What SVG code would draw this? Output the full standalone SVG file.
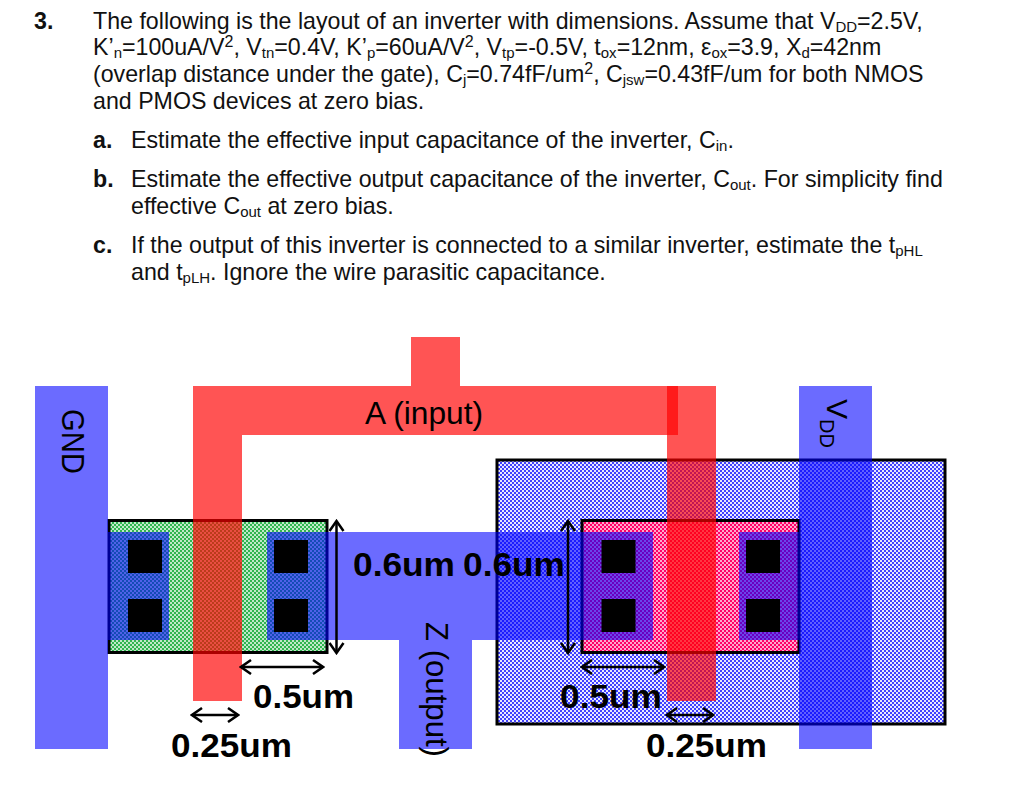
<svg xmlns="http://www.w3.org/2000/svg" width="1024" height="793" viewBox="0 0 1024 793">
<style>
text{font-family:"Liberation Sans",Arial,sans-serif;fill:#111}
.b{font-size:23.2px}
.n{font-size:23.2px;font-weight:bold}
.s{font-size:15px}
.u{font-size:16px}
.m{font-size:33px;font-weight:bold;fill:#000}
.l{font-size:31px;fill:#000}
.metal{fill:#0000ff;fill-opacity:.58}
.poly{fill:#ff0000;fill-opacity:.67}
.ct{fill:#000}
.box{stroke:#000;stroke-width:3}
.arr{fill:none;stroke:#000;stroke-width:2.5;marker-start:url(#h);marker-end:url(#h)}
</style>
<defs>
<pattern id="well" width="4" height="4" patternUnits="userSpaceOnUse"><rect width="4" height="4" fill="#4040ff"/><rect width="2" height="2" fill="#e8e8ff"/><rect x="2" y="2" width="2" height="2" fill="#e8e8ff"/></pattern>
<pattern id="ndiff" width="4" height="4" patternUnits="userSpaceOnUse"><rect width="4" height="4" fill="#2fb54f"/><rect width="2" height="2" fill="#bfe8c8"/><rect x="2" y="2" width="2" height="2" fill="#bfe8c8"/></pattern>
<pattern id="pdiff" width="4" height="4" patternUnits="userSpaceOnUse"><rect width="4" height="4" fill="#ff0066"/><rect width="2" height="2" fill="#ffa8cc"/><rect x="2" y="2" width="2" height="2" fill="#ffa8cc"/></pattern>
<marker id="h" viewBox="-11 -8 13 16" markerUnits="userSpaceOnUse" markerWidth="13" markerHeight="16" refX="0" refY="0" orient="auto-start-reverse"><path d="M-10,-7 L0,0 L-10,7" fill="none" stroke="#000" stroke-width="2.5"/></marker>
</defs>

<g id="question">
<text class="n" x="34" y="29">3.</text>
<text class="b" x="93" y="29">The following is the layout of an inverter with dimensions. Assume that V<tspan class="s" dy="3">DD</tspan><tspan dy="-3">=2.5V,</tspan></text>
<text class="b" x="93" y="55">K’<tspan class="s" dy="3">n</tspan><tspan dy="-3">=100uA/V</tspan><tspan class="u" dy="-8">2</tspan><tspan dy="8">, V</tspan><tspan class="s" dy="3">tn</tspan><tspan dy="-3">=0.4V, K’</tspan><tspan class="s" dy="3">p</tspan><tspan dy="-3">=60uA/V</tspan><tspan class="u" dy="-8">2</tspan><tspan dy="8">, V</tspan><tspan class="s" dy="3">tp</tspan><tspan dy="-3">=-0.5V, t</tspan><tspan class="s" dy="3">ox</tspan><tspan dy="-3">=12nm, ε</tspan><tspan class="s" dy="3">ox</tspan><tspan dy="-3">=3.9, X</tspan><tspan class="s" dy="3">d</tspan><tspan dy="-3">=42nm</tspan></text>
<text class="b" x="93" y="82">(overlap distance under the gate), C<tspan class="s" dy="3">j</tspan><tspan dy="-3">=0.74fF/um</tspan><tspan class="u" dy="-8">2</tspan><tspan dy="8">, C</tspan><tspan class="s" dy="3">jsw</tspan><tspan dy="-3">=0.43fF/um for both NMOS</tspan></text>
<text class="b" x="93" y="109">and PMOS devices at zero bias.</text>
<text class="n" x="93" y="148">a.</text>
<text class="b" x="131" y="148">Estimate the effective input capacitance of the inverter, C<tspan class="s" dy="3">in</tspan><tspan dy="-3">.</tspan></text>
<text class="n" x="93" y="187">b.</text>
<text class="b" x="131" y="187">Estimate the effective output capacitance of the inverter, C<tspan class="s" dy="3">out</tspan><tspan dy="-3">. For simplicity find</tspan></text>
<text class="b" x="131" y="214">effective C<tspan class="s" dy="3">out</tspan><tspan dy="-3"> at zero bias.</tspan></text>
<text class="n" x="93" y="253">c.</text>
<text class="b" x="131" y="253">If the output of this inverter is connected to a similar inverter, estimate the t<tspan class="s" dy="3">pHL</tspan></text>
<text class="b" x="131" y="280">and t<tspan class="s" dy="3">pLH</tspan><tspan dy="-3">. Ignore the wire parasitic capacitance.</tspan></text>
</g>

<g id="nwell"><rect class="box" x="497" y="460" width="448" height="264" fill="url(#well)"/></g>
<g id="ndiffusion"><rect class="box" x="109" y="520.5" width="218" height="132" fill="url(#ndiff)"/></g>
<g id="pdiffusion"><rect class="box" x="582" y="520.5" width="217" height="132" fill="url(#pdiff)"/></g>

<g id="poly-input">
<path class="poly" d="M193,386H411V337H460V386H678V435H242V701H193Z"/>
<rect class="poly" x="667" y="386" width="49" height="315"/>
<text class="l" x="365" y="424" textLength="118" lengthAdjust="spacingAndGlyphs">A (input)</text>
</g>

<g id="metal-gnd">
<path class="metal" d="M35,386H108V532H169V640H108V749H35Z"/>
<text class="l" transform="translate(62,409) rotate(90)" textLength="65" lengthAdjust="spacingAndGlyphs">GND</text>
</g>
<g id="metal-output">
<path class="metal" d="M267,532H653V640H472V749H399V640H267Z"/>
<text class="l" transform="translate(426,622) rotate(90)" textLength="135" lengthAdjust="spacingAndGlyphs">Z (output)</text>
</g>
<g id="metal-vdd">
<path class="metal" d="M799,386H872V749H799V640H739V532H799Z"/>
<text class="l" transform="translate(827,399) rotate(90)" style="font-size:30px">V<tspan dy="7" style="font-size:20px">DD</tspan></text>
</g>

<g id="contacts">
<rect class="ct" x="128" y="540" width="34" height="33"/><rect class="ct" x="128" y="599" width="34" height="33"/>
<rect class="ct" x="274" y="540" width="34" height="33"/><rect class="ct" x="274" y="599" width="34" height="33"/>
<rect class="ct" x="601.5" y="540" width="34" height="33"/><rect class="ct" x="601.5" y="599" width="34" height="33"/>
<rect class="ct" x="746" y="540" width="34" height="33"/><rect class="ct" x="746" y="599" width="34" height="33"/>
</g>

<g id="connectors">
<line class="arr" x1="336.5" y1="521" x2="336.5" y2="653"/>
<line class="arr" x1="241" y1="667" x2="323" y2="667"/>
<line class="arr" x1="192" y1="715" x2="238" y2="715"/>
<line class="arr" x1="568" y1="521" x2="568" y2="653"/>
<line class="arr" x1="582" y1="667" x2="664" y2="667"/>
<line class="arr" x1="667" y1="715" x2="713" y2="715"/>
</g>

<g id="dimension-labels">
<text class="m" x="353" y="576" textLength="102" lengthAdjust="spacingAndGlyphs">0.6um</text>
<text class="m" x="463" y="576" textLength="102" lengthAdjust="spacingAndGlyphs">0.6um</text>
<text class="m" x="253" y="708" textLength="101" lengthAdjust="spacingAndGlyphs">0.5um</text>
<text class="m" x="560" y="708" textLength="102" lengthAdjust="spacingAndGlyphs">0.5um</text>
<text class="m" x="171" y="757" textLength="121" lengthAdjust="spacingAndGlyphs">0.25um</text>
<text class="m" x="646" y="757" textLength="121" lengthAdjust="spacingAndGlyphs">0.25um</text>
</g>
</svg>
